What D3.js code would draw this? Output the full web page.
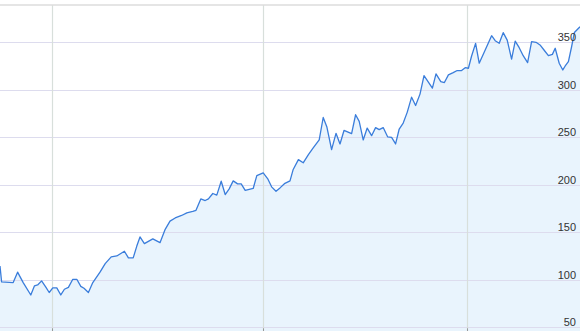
<!DOCTYPE html>
<meta charset='utf-8'>
<style>
	body { margin: 0; background: #fff; }
	#container { width: 580px; height: 331px; overflow: hidden; }
	text { font-family: Arial, 'Liberation Sans', sans-serif; font-size: 11px; fill: #333; }
</style>
<body>
	<div id='container'></div>
<script src='https://d3js.org/d3.v7.min.js'></script>
<script>
	// weekly closes, x given in weeks from the left edge
	const weeks = [
		0, 0.4, 3.3, 4.4, 5.8, 7.7, 8.6, 9.4, 10.4, 11.5,
		12.3, 13.2, 14.2, 15.2, 16.1, 17.1, 18.2, 19.2, 20.2, 21,
		22.1, 23.2, 25, 26.3, 27.8, 29.2, 31.1, 32.1, 33.3, 34.2,
		35, 36.1, 38.2, 40, 41.3, 42.5, 43.8, 45.4, 46.7, 48.2,
		49, 50.2, 51.3, 52.1, 53.2, 54.2, 55.3, 56.3, 57.3, 58.3,
		59.4, 60.3, 61.3, 63.3, 64.2, 65.8, 66.9, 67.9, 69, 70,
		71.1, 72.5, 73.3, 74.6, 75.8, 77.1, 78.3, 79.8, 80.8, 81.7,
		82.9, 84, 85, 86, 87.9, 88.9, 89.8, 90.8, 91.8, 92.9,
		93.9, 94.8, 95.8, 96.9, 97.9, 98.9, 99.8, 100.8, 101.8, 102.9,
		103.9, 105, 106, 108.1, 109, 110.2, 111.1, 112.1, 113.3, 114.3,
		115.4, 116.3, 117.1, 117.9, 118.9, 119.8, 121.3, 122.9, 123.8, 124.8,
		125.8, 126.8, 127.9, 128.8, 129.8, 130.8, 131.9, 132.9, 134, 135,
		136, 137.1, 138.1, 138.8, 139.8, 140.7, 141.3, 142.1, 142.9, 143.6,
		145,
	];
	const prices = [
		114.5, 97.7, 97, 108, 97, 84, 93.5, 94.5, 98.8, 92,
		86.6, 91.4, 91.4, 84, 90, 92, 100.5, 100.5, 93, 91,
		86.6, 97, 108, 117, 124, 125, 130, 123, 123, 135.4,
		145, 138, 143, 139, 153, 161.6, 165, 167.6, 170.4, 171.8,
		173, 185, 183.3, 185, 190.7, 189, 203.6, 189.6, 195.6, 204,
		200.8, 200.8, 194, 196, 209.5, 212.4, 206.4, 197.7, 193, 196.6,
		201, 204, 216, 226.3, 223, 231.6, 238.6, 247, 270.6, 261,
		236.8, 254, 242.8, 257, 253.6, 273.5, 266.5, 247, 259.5, 251.5,
		260, 257.8, 260, 250.3, 249.7, 242.8, 258.5, 264.8, 276, 292,
		283.2, 295.2, 314.7, 301.5, 316.5, 308.4, 307.4, 315.4, 317.8, 320,
		320, 323, 322.4, 335.3, 348.6, 327.7, 341.6, 356.6, 351.4, 348.6,
		359.8, 352, 332, 351, 344, 335.6, 328.3, 350.3, 349.7, 346.9,
		341.6, 335.6, 337, 343.4, 327.7, 320.6, 324.8, 329.4, 345, 360,
		366,
	];
	const yearStarts = [ 13.1, 65.7, 116.8 ];
	const yTicks = [ 50, 100, 150, 200, 250, 300, 350 ];

	const width = 580, height = 331, topY = 5;

	let xScale = d3.scaleLinear()
		.domain( [0, 145] )
		.range( [0, width] );
	let yScale = d3.scaleLinear()
		.domain( [50, 350] )
		.range( [327.3, 42] );

	let data = d3.zip( weeks, prices ).map( d => ( { week: d[0], price: d[1] } ) );

	let svg = d3.select( '#container' )
		.append( 'svg' )
		.attr( 'width', width )
		.attr( 'height', height );

	// area fill first, grid drawn over it
	let area = d3.area()
		.x( d => xScale( d.week ) )
		.y0( height + 5 )
		.y1( d => yScale( d.price ) );

	svg.append( 'path' )
		.datum( data )
		.attr( 'd', area )
		.style( 'fill', '#e9f4fd' );

	// horizontal grid
	svg.append( 'g' )
		.selectAll( 'line' )
		.data( yTicks )
		.enter().append( 'line' )
			.attr( 'x1', 0 )
			.attr( 'x2', width )
			.attr( 'y1', d => Math.round( yScale( d ) ) + 0.5 )
			.attr( 'y2', d => Math.round( yScale( d ) ) + 0.5 )
			.style( 'stroke', '#dddcee' )
			.style( 'stroke-width', 1.2 );

	// vertical grid at year boundaries
	svg.append( 'g' )
		.selectAll( 'line' )
		.data( yearStarts )
		.enter().append( 'line' )
			.attr( 'x1', d => Math.round( xScale( d ) ) + 0.5 )
			.attr( 'x2', d => Math.round( xScale( d ) ) + 0.5 )
			.attr( 'y1', topY )
			.attr( 'y2', height )
			.style( 'stroke', '#d8dfdb' )
			.style( 'stroke-width', 1.2 );

	// small axis ticks at the bottom
	svg.append( 'g' )
		.selectAll( 'line' )
		.data( yearStarts )
		.enter().append( 'line' )
			.attr( 'x1', d => Math.round( xScale( d ) ) + 0.5 )
			.attr( 'x2', d => Math.round( xScale( d ) ) + 0.5 )
			.attr( 'y1', yScale( 50 ) + 1 )
			.attr( 'y2', height )
			.style( 'stroke', '#999' )
			.style( 'stroke-width', 1 );

	// top border
	svg.append( 'line' )
		.attr( 'x1', 0 )
		.attr( 'x2', width )
		.attr( 'y1', topY )
		.attr( 'y2', topY )
		.style( 'stroke', '#dcdcdc' )
		.style( 'stroke-width', 1.5 );

	let line = d3.line()
		.x( d => xScale( d.week ) )
		.y( d => yScale( d.price ) );

	svg.append( 'path' )
		.datum( data )
		.attr( 'd', line )
		.style( 'fill', 'none' )
		.style( 'stroke', '#3a7ddb' )
		.style( 'stroke-width', 1.3 )
		.style( 'stroke-linejoin', 'round' );

	// price labels on the right
	svg.append( 'g' )
		.selectAll( 'text' )
		.data( yTicks )
		.enter().append( 'text' )
			.attr( 'x', 576 )
			.attr( 'y', d => yScale( d ) - 1 )
			.style( 'text-anchor', 'end' )
			.text( d => d );
</script>
</body>
